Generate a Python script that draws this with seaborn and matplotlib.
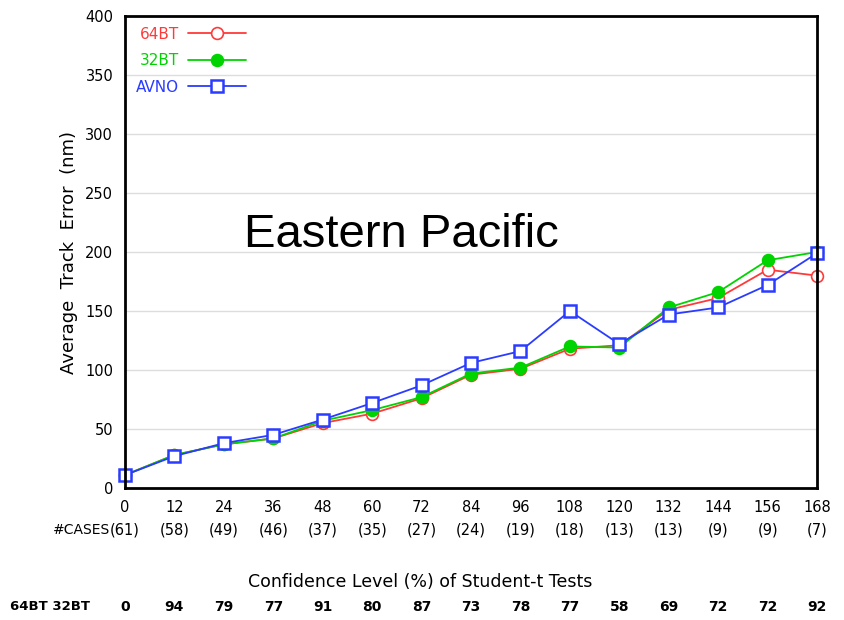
import matplotlib
matplotlib.use("Agg")
import matplotlib.pyplot as plt
import matplotlib.transforms as mtransforms
import seaborn as sns
import pandas as pd

# ---- data ----
hours = [0, 12, 24, 36, 48, 60, 72, 84, 96, 108, 120, 132, 144, 156, 168]
err_64bt = [11, 28, 37, 42, 55, 63, 76, 96, 101, 118, 121, 151, 161, 185, 180]
err_32bt = [11, 28, 37, 42, 57, 66, 77, 97, 102, 120, 119, 153, 166, 193, 200]
err_avno = [11, 27, 38, 45, 58, 72, 87, 106, 116, 150, 122, 147, 153, 172, 199]
cases = [61, 58, 49, 46, 37, 35, 27, 24, 19, 18, 13, 13, 9, 9, 7]
confidence = [0, 94, 79, 77, 91, 80, 87, 73, 78, 77, 58, 69, 72, 72, 92]
series_names = ["64BT", "32BT", "AVNO"]
series_colors = ["#ff3a3a", "#00d400", "#2a3cff"]
y_ticks = [0, 50, 100, 150, 200, 250, 300, 350, 400]

df = pd.DataFrame({
    "hour": hours * 3,
    "err": err_64bt + err_32bt + err_avno,
    "model": [series_names[0]] * len(hours) + [series_names[1]] * len(hours) + [series_names[2]] * len(hours),
})

sns.set_style("white")
plt.rcParams["font.family"] = ["DejaVu Sans"]
plt.rcParams["text.color"] = "black"
plt.rcParams["axes.labelcolor"] = "black"

fig = plt.figure(figsize=(8.45, 6.2), dpi=100)
ax = fig.add_axes([125 / 845, 132 / 620, (817 - 125) / 845, (488 - 16) / 620])

styles = {
    "64BT": dict(marker="o", mfc="white", ms=8.5, mew=1.2),
    "32BT": dict(marker="o", ms=8.5, mew=1.2),
    "AVNO": dict(marker="s", mfc="white", ms=9, mew=1.8),
}
for name, col in zip(series_names, series_colors):
    sub = df[df["model"] == name]
    st = dict(styles[name])
    sns.lineplot(data=sub, x="hour", y="err", ax=ax, color=col, mec=col,
                 lw=1.3, label=name, clip_on=False, **st)

ax.set_xlim(0, 168)
ax.set_ylim(0, 400)
ax.set_xticks(hours)
ax.set_yticks(y_ticks)
ax.tick_params(axis="both", direction="out", length=5, width=1.2, labelsize=10.5, colors="black")
ax.yaxis.grid(True, color="#dddddd", lw=1)
ax.xaxis.grid(False)
for sp in ax.spines.values():
    sp.set_color("black")
    sp.set_linewidth(2)
ax.set_xlabel("")
ax.set_ylabel("Average  Track  Error  (nm)", fontsize=13, labelpad=5, color="black")

leg = ax.legend(loc="upper left", frameon=False, markerfirst=False, handlelength=3.8,
                fontsize=11, labelspacing=0.75, borderaxespad=0.3, handletextpad=0.6)
for txt, col in zip(leg.get_texts(), series_colors):
    txt.set_color(col)

ax.text(0.4, 0.535, "Eastern Pacific", transform=ax.transAxes, fontsize=34,
        family="Liberation Sans", ha="center", va="center", color="black")

# bottom rows
trans = mtransforms.blended_transform_factory(ax.transData, fig.transFigure)
for h, c in zip(hours, cases):
    ax.text(h, 1 - 530 / 620, f"({c})", transform=trans, ha="center", va="center", fontsize=10.5)
fig.text(53 / 845, 1 - 530 / 620, "#CASES", ha="left", va="center", fontsize=10)
fig.text(420 / 845, 1 - 582 / 620, "Confidence Level (%) of Student-t Tests",
         ha="center", va="center", fontsize=12.5, color="black")
fig.text(10 / 845, 1 - 607 / 620, "64BT 32BT", ha="left", va="center", fontsize=9.5, fontweight="bold")
for h, c in zip(hours, confidence):
    ax.text(h, 1 - 607 / 620, f"{c}", transform=trans, ha="center", va="center",
            fontsize=10, fontweight="bold")

fig.savefig("out.png", dpi=100, facecolor="white")
